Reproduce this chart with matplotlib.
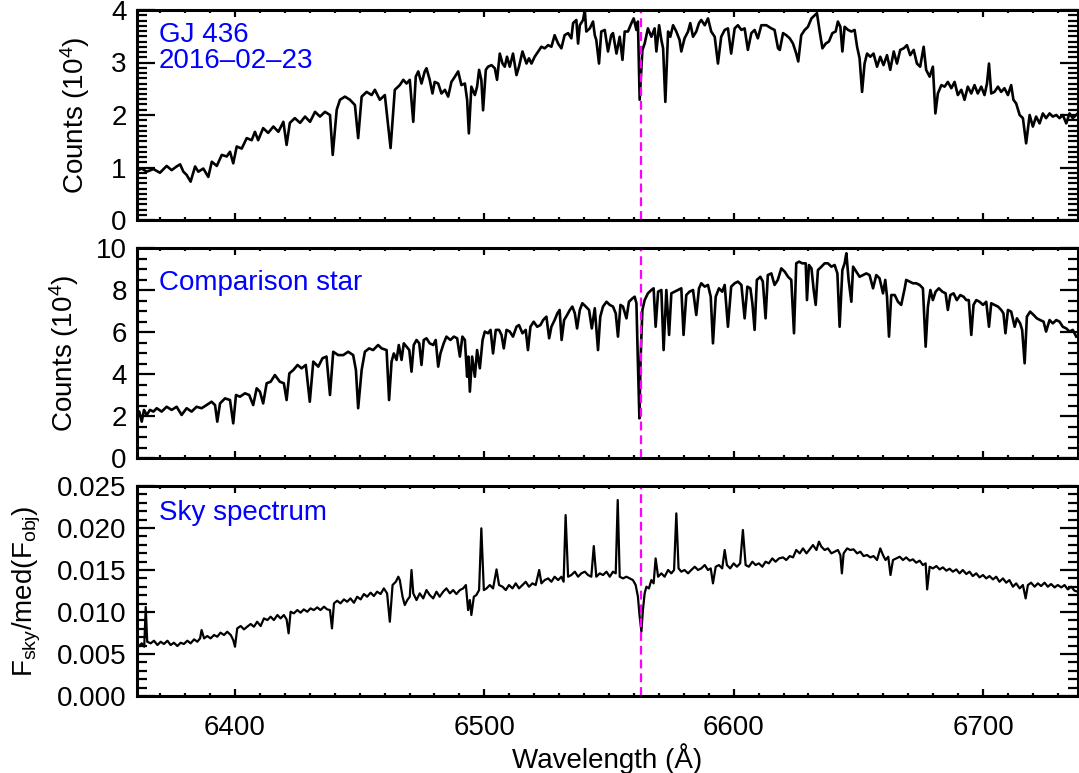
import numpy as np
import matplotlib.pyplot as plt
from matplotlib.ticker import MultipleLocator

plt.rcParams['font.family'] = ['Liberation Sans', 'DejaVu Sans']
plt.rcParams['mathtext.fontset'] = 'custom'
plt.rcParams['mathtext.rm'] = 'Liberation Sans'
plt.rcParams['mathtext.it'] = 'Liberation Sans:italic'

# H-alpha rest wavelength (dashed line)
halpha = 6562.8

# GJ 436 counts (10^4)
wl_gj = [6360.6, 6362.6, 6364.6, 6367.3, 6369.9, 6372.6, 6374.6, 6376.6, 6378.0, 6379.3,
         6380.6, 6382.2, 6384.0, 6385.3, 6387.3, 6389.3, 6390.7, 6392.7, 6394.7, 6396.7,
         6398.0, 6399.3, 6400.7, 6402.7, 6404.7, 6406.7, 6408.0, 6409.3, 6411.3, 6413.3,
         6415.4, 6417.4, 6419.4, 6420.7, 6422.0, 6424.0, 6426.1, 6428.1, 6430.1, 6432.1,
         6434.1, 6436.1, 6438.1, 6439.2, 6440.8, 6442.1, 6444.1, 6446.1, 6448.1, 6449.4,
         6450.8, 6452.8, 6454.8, 6456.1, 6458.1, 6460.1, 6462.4, 6464.1, 6466.1,
         6467.5, 6468.8, 6470.1, 6471.5, 6472.5, 6473.5, 6474.8, 6476.1, 6476.8, 6478.1,
         6479.2, 6480.1, 6481.5, 6482.8, 6484.2, 6485.5, 6486.8, 6488.2, 6489.5, 6490.8,
         6492.2, 6493.1, 6493.8, 6494.8, 6496.2, 6497.1, 6497.9, 6498.8, 6499.5, 6500.6,
         6501.5, 6502.9, 6504.2, 6505.1, 6506.2, 6507.3, 6508.2, 6509.1, 6510.2, 6511.5,
         6512.9, 6513.9, 6515.3, 6516.9, 6517.9, 6518.9, 6520.2, 6521.6, 6522.9, 6524.2,
         6525.6, 6526.9, 6528.2, 6529.6, 6530.9, 6532.2, 6533.6, 6534.9, 6535.6, 6536.9,
         6537.6, 6538.3, 6539.6, 6540.3, 6540.9, 6542.3, 6543.6, 6544.3, 6544.9, 6546.0,
         6546.9, 6548.3, 6549.6, 6550.9, 6551.6, 6553.0, 6554.3, 6555.4, 6556.3, 6557.6,
         6559.0, 6559.9, 6561.0, 6561.6, 6562.3, 6563.4, 6564.3, 6565.6, 6567.0, 6568.3,
         6569.0, 6570.1, 6571.0, 6571.7, 6572.6, 6573.7, 6574.6, 6575.7, 6577.0, 6578.3,
         6579.0, 6580.3, 6581.7, 6582.6, 6583.7, 6585.0, 6586.1, 6587.0, 6588.4, 6589.7,
         6591.0, 6592.4, 6593.7, 6595.0, 6596.4, 6597.7, 6599.0, 6600.4, 6601.7, 6603.1,
         6604.4, 6605.7, 6607.1, 6608.4, 6609.7, 6611.1, 6613.1, 6615.1, 6616.4, 6617.8,
         6618.5, 6619.8, 6621.1, 6622.5, 6623.8, 6625.1, 6625.9, 6627.1, 6628.5, 6629.8,
         6631.2, 6632.5, 6633.4, 6634.5, 6635.6, 6636.9, 6638.2, 6639.6, 6640.9, 6641.8,
         6642.8, 6643.6, 6644.5, 6645.9, 6647.2, 6648.5, 6649.5, 6650.5, 6651.5, 6652.5,
         6653.5, 6654.8, 6656.1, 6657.5, 6658.8, 6660.1, 6661.5, 6662.8, 6664.2, 6665.5,
         6666.8, 6668.2, 6669.5, 6670.8, 6672.2, 6673.5, 6674.8, 6676.2, 6677.2, 6678.6,
         6679.9, 6680.9, 6681.9, 6683.3, 6684.6, 6685.9, 6687.3, 6688.6, 6689.9, 6691.3,
         6692.6, 6693.9, 6695.3, 6696.6, 6697.9, 6699.3, 6700.6, 6701.6, 6702.4, 6703.3,
         6704.6, 6706.0, 6707.3, 6708.6, 6710.0, 6711.3, 6712.2, 6713.3, 6714.7, 6716.0,
         6717.3, 6718.7, 6720.0, 6721.3, 6722.7, 6724.0, 6725.3, 6726.7, 6728.0, 6729.4,
         6730.7, 6732.0, 6733.4, 6734.7, 6736.0, 6738.0]
flux_gj = [0.94, 0.98, 0.92, 0.97, 0.90, 1.03, 0.95, 1.02, 1.06, 0.92,
           0.86, 0.73, 1.02, 0.92, 0.98, 0.82, 1.11, 1.03, 1.24, 1.21,
           1.30, 1.08, 1.40, 1.36, 1.56, 1.52, 1.68, 1.52, 1.75, 1.66,
           1.78, 1.68, 1.87, 1.43, 1.85, 1.94, 1.85, 1.97, 1.87, 2.06,
           1.97, 2.06, 2.00, 1.24, 2.10, 2.29, 2.35, 2.29, 2.19, 1.56,
           2.35, 2.44, 2.38, 2.48, 2.29, 2.38, 1.37, 2.48, 2.57,
           2.67, 2.60, 2.67, 1.87, 2.73, 2.83, 2.60, 2.83, 2.89, 2.67,
           2.41, 2.63, 2.60, 2.41, 2.48, 2.35, 2.63, 2.73, 2.83, 2.57,
           2.60, 2.29, 1.65, 2.54, 2.38, 2.54, 2.86, 2.67, 2.09, 2.86,
           2.92, 2.95, 2.89, 2.67, 3.17, 2.98, 2.92, 3.11, 2.92, 3.17,
           2.76, 2.92, 3.21, 2.98, 3.08, 2.98, 3.11, 3.21, 3.30, 3.27,
           3.33, 3.30, 3.52, 3.36, 3.27, 3.52, 3.56, 3.46, 3.75, 3.81,
           3.36, 3.71, 3.81, 4.00, 3.59, 3.65, 3.78, 3.52, 3.43, 2.98,
           3.59, 3.62, 3.21, 3.52, 3.56, 3.17, 3.49, 3.05, 3.59, 3.59,
           3.75, 3.84, 3.62, 3.78, 2.29, 3.24, 3.36, 3.65, 3.49, 3.65,
           3.21, 3.71, 3.43, 3.27, 2.25, 3.59, 3.49, 3.71, 3.59, 3.43,
           3.21, 3.46, 3.59, 3.75, 3.49, 3.59, 3.75, 3.81, 3.71, 3.84,
           3.59, 3.49, 2.98, 3.49, 3.62, 3.65, 3.17, 3.65, 3.71, 3.62,
           3.65, 3.24, 3.56, 3.62, 3.46, 3.71, 3.71, 3.65, 3.62, 3.27,
           3.24, 3.56, 3.52, 3.46, 3.36, 3.17, 3.02, 3.52, 3.62, 3.68,
           3.84, 3.90, 3.94, 3.59, 3.27, 3.36, 3.40, 3.56, 3.59, 3.78,
           3.68, 3.21, 3.68, 3.62, 3.59, 3.62, 3.30, 3.08, 2.44, 2.98,
           3.17, 3.11, 3.17, 2.92, 3.11, 2.95, 3.14, 2.86, 3.21, 2.98,
           3.24, 3.27, 3.33, 3.14, 3.24, 2.98, 2.92, 3.30, 2.86, 2.73,
           2.92, 2.03, 2.41, 2.57, 2.54, 2.63, 2.51, 2.63, 2.38, 2.48,
           2.29, 2.54, 2.41, 2.57, 2.41, 2.54, 2.38, 2.60, 2.98, 2.41,
           2.44, 2.54, 2.44, 2.51, 2.38, 2.57, 2.29, 2.22, 2.00, 1.94,
           1.46, 2.00, 1.78, 1.97, 1.84, 2.03, 1.94, 2.03, 1.97, 2.00,
           1.94, 2.00, 1.84, 2.03, 1.94, 2.03]

# comparison star counts (10^4)
wl_comp = [6360.6, 6361.6, 6362.6, 6363.5, 6364.6, 6365.9, 6367.3, 6368.6, 6370.6, 6372.6,
           6374.6, 6376.6, 6378.6, 6380.6, 6382.6, 6384.6, 6386.6, 6388.6, 6390.6, 6392.0,
           6392.9, 6394.0, 6396.0, 6398.0, 6399.3, 6400.4, 6402.0, 6404.0, 6405.7, 6407.3,
           6408.7, 6410.0, 6411.3, 6412.7, 6414.3, 6416.0, 6418.0, 6419.6, 6420.7, 6421.8,
           6423.4, 6425.1, 6426.7, 6428.4, 6430.0, 6431.4, 6433.4, 6435.1, 6436.7, 6438.1,
           6439.4, 6441.4, 6443.4, 6445.4, 6447.4, 6448.5, 6449.4, 6450.8, 6452.1, 6453.8,
           6455.4, 6457.4, 6458.8,
           6460.8, 6461.8, 6462.8, 6463.7, 6464.8, 6465.7, 6466.8, 6467.7, 6468.8, 6469.9,
           6470.8, 6471.7, 6472.8, 6473.9, 6474.8, 6475.7, 6476.8, 6478.1, 6479.5, 6480.5,
           6481.5, 6482.4, 6483.7, 6484.8, 6486.4, 6487.8, 6489.1, 6490.2, 6491.2, 6492.2,
           6493.1, 6493.6, 6494.2, 6495.1, 6496.2, 6497.1, 6498.2, 6499.3, 6500.2, 6501.5,
           6502.5, 6503.5, 6504.6, 6505.9, 6506.9, 6507.8, 6508.9, 6510.2, 6511.5, 6512.9,
           6513.9, 6515.3, 6516.6, 6517.5, 6518.5, 6519.8, 6521.2, 6522.5, 6523.6, 6524.9,
           6526.0, 6526.9, 6528.2, 6529.3, 6530.2, 6531.0, 6532.0, 6533.2, 6534.3, 6535.3,
           6536.3, 6537.2, 6538.3, 6539.3, 6540.7, 6542.0, 6543.1, 6544.3, 6545.6, 6546.5,
           6547.6, 6549.0, 6550.3, 6551.6, 6552.7, 6553.6, 6554.6, 6555.6, 6557.0, 6558.0,
           6559.4, 6560.3, 6561.0, 6561.6, 6562.2, 6562.7, 6563.4, 6564.3, 6565.6, 6567.0,
           6567.9, 6568.7, 6569.7, 6571.0, 6571.9, 6573.0, 6574.1, 6575.0, 6576.3, 6577.7,
           6579.0, 6579.9, 6581.0, 6582.3, 6583.7, 6585.0, 6586.1, 6587.0, 6588.4, 6589.7,
           6590.8, 6591.7, 6592.8, 6594.1, 6595.4, 6596.4, 6597.7, 6599.0, 6600.4, 6601.7,
           6603.1, 6604.4, 6605.5, 6606.7, 6607.5, 6608.4, 6609.3, 6610.7, 6611.7, 6612.8,
           6613.7, 6615.1, 6616.4, 6617.7,
           6618.5, 6619.1, 6620.5, 6621.8, 6623.1, 6624.2, 6625.1, 6626.2, 6627.5, 6628.9,
           6629.4, 6630.2, 6631.2, 6632.1, 6632.9, 6633.8, 6635.2, 6636.5, 6637.8, 6639.2,
           6640.5, 6641.6, 6642.5, 6643.6, 6644.5, 6645.2, 6646.1, 6647.2, 6647.9, 6649.2,
           6650.5, 6651.9, 6653.2, 6654.5, 6655.9, 6657.2, 6658.5, 6659.9, 6660.8, 6661.5,
           6662.3, 6663.2, 6664.6, 6665.9, 6667.2, 6668.6, 6669.2, 6670.6, 6671.9, 6673.2,
           6674.6, 6675.9, 6677.0, 6677.9, 6678.9, 6679.9, 6681.0, 6682.3, 6683.7, 6685.0,
           6685.9, 6686.9, 6688.2, 6689.5, 6690.9, 6692.2, 6693.3, 6694.3, 6695.3, 6696.2,
           6697.3, 6698.6, 6700.0, 6701.3, 6702.4, 6703.3, 6704.6, 6706.0, 6707.3, 6708.2,
           6709.0, 6710.0, 6711.3, 6712.7, 6713.6, 6714.9, 6715.7, 6716.7, 6717.6, 6718.9,
           6720.3, 6721.6, 6722.9, 6724.3, 6725.3, 6726.7, 6728.0, 6729.4, 6730.7, 6732.0,
           6733.4, 6734.7, 6736.0, 6737.4]
flux_comp = [1.81, 2.21, 1.73, 2.29, 2.05, 2.29, 2.21, 2.37, 2.21, 2.44,
             2.29, 2.44, 2.05, 2.37, 2.21, 2.44, 2.37, 2.52, 2.68, 2.52,
             1.73, 2.60, 2.84, 2.76, 1.65, 3.00, 2.92, 3.08, 3.00, 2.52,
             3.32, 3.16, 2.60, 3.56, 3.63, 3.95, 3.63, 3.56, 2.76, 4.03,
             4.19, 4.43, 4.27, 4.43, 2.68, 4.59, 4.35, 4.75, 4.83, 3.00,
             5.06, 4.90, 4.90, 5.06, 4.90, 4.19, 2.37, 4.19, 5.06, 5.22,
             5.14, 5.38, 5.22,
             5.14, 2.76, 4.59, 4.98, 4.67, 5.38, 4.67, 5.46, 5.30, 5.14,
             4.11, 5.38, 5.62, 5.46, 4.43, 5.62, 5.70, 5.46, 5.38, 5.62,
             4.35, 4.98, 5.46, 5.78, 5.62, 5.78, 5.70, 4.83, 5.78, 5.62,
             3.87, 4.83, 3.16, 4.83, 3.87, 5.14, 4.27, 5.62, 6.02, 5.94,
             6.10, 4.98, 6.10, 6.10, 5.86, 5.22, 6.10, 6.02, 5.78, 6.25,
             6.33, 5.94, 6.10, 5.14, 6.25, 6.49, 6.25, 6.33, 6.57, 6.73,
             5.70, 6.25, 6.57, 6.89, 7.05, 5.62, 6.57, 6.81, 7.05, 7.21,
             6.89, 6.17, 7.05, 7.37, 7.21, 7.05, 6.17, 7.13, 5.14, 6.73,
             7.21, 7.44, 7.29, 7.21, 6.89, 5.78, 7.29, 7.21, 6.65, 7.44,
             7.60, 7.68, 7.37, 4.51, 1.89, 4.83, 7.05, 7.52, 7.84, 8.00,
             8.08, 6.25, 7.92, 8.00, 5.14, 8.00, 5.86, 7.84, 7.92, 8.00,
             8.08, 5.86, 7.76, 7.92, 8.00, 6.81, 8.08, 8.32, 8.16, 8.24,
             7.68, 5.46, 7.68, 8.08, 7.92, 8.24, 6.25, 8.16, 8.32, 8.40,
             8.24, 6.65, 8.16, 8.08, 7.37, 6.10, 8.48, 8.63, 8.40, 6.65,
             8.71, 8.79, 8.24, 8.48,
             8.79, 9.03, 8.87, 8.63, 8.48, 5.94, 9.27, 9.35, 9.27, 9.27,
             7.52, 9.19, 9.03, 8.00, 7.29, 8.95, 9.11, 9.27, 9.27, 9.11,
             9.19, 8.79, 6.25, 8.95, 9.27, 9.75, 8.48, 7.44, 9.11, 8.87,
             8.63, 8.71, 8.79, 8.71, 8.08, 8.71, 8.56, 7.84, 8.48, 7.68,
             5.78, 7.76, 7.76, 7.44, 7.29, 8.08, 8.48, 8.40, 8.32, 8.32,
             8.24, 8.08, 5.30, 7.21, 8.00, 7.52, 7.92, 8.08, 7.92, 7.84,
             7.05, 7.76, 7.84, 7.52, 7.76, 7.68, 7.52, 7.52, 5.86, 7.29,
             7.52, 7.44, 7.29, 7.44, 6.25, 7.37, 7.29, 7.21, 7.05, 6.89,
             5.94, 7.05, 6.97, 6.25, 6.65, 6.41, 6.10, 4.51, 6.73, 6.97,
             6.81, 6.65, 6.57, 6.49, 6.02, 6.57, 6.41, 6.57, 6.49, 6.25,
             6.17, 6.02, 6.10, 5.78]

# sky / median object flux, in units of 10^-3
wl_sky = [6361.2, 6362.6, 6363.6, 6364.2, 6364.8, 6366.2, 6367.5, 6368.9, 6370.2, 6371.5,
          6372.9, 6374.2, 6375.5, 6376.9, 6378.2, 6379.5, 6380.9, 6382.2, 6383.6, 6384.9,
          6386.0, 6386.6, 6387.6, 6388.9, 6390.2, 6391.6, 6392.9, 6394.2, 6395.6, 6396.9,
          6398.3, 6399.3, 6400.0, 6400.9, 6402.3, 6403.6, 6404.9, 6406.3, 6407.6, 6408.9,
          6410.3, 6411.6, 6413.0, 6414.3, 6415.6, 6417.0, 6418.3, 6419.6, 6420.7, 6421.5,
          6422.3, 6423.6, 6425.0, 6426.3, 6427.6, 6429.0, 6430.3, 6431.6, 6433.0, 6434.3,
          6435.7, 6437.0, 6438.1, 6438.9, 6439.7, 6441.0, 6442.3, 6443.7, 6445.0, 6446.3,
          6447.7, 6449.0, 6450.4, 6451.7, 6453.0, 6454.4, 6455.7, 6457.0, 6458.4, 6459.7,
          6461.0, 6462.1, 6463.2, 6464.5, 6465.5,
          6466.1, 6467.2, 6468.1, 6469.1, 6470.1, 6470.8, 6471.5, 6472.8, 6474.1, 6475.5,
          6476.8, 6478.1, 6479.5, 6480.8, 6482.1, 6483.5, 6484.8, 6486.2, 6487.5, 6488.8,
          6490.2, 6491.5, 6492.6, 6493.5, 6494.2, 6494.8, 6495.8, 6496.8, 6497.9, 6498.8,
          6499.8, 6500.9, 6502.2, 6503.5, 6504.9, 6505.9, 6507.3, 6508.6, 6509.9, 6511.3,
          6512.6, 6513.9, 6515.3, 6516.6, 6517.9, 6519.3, 6520.6, 6522.0, 6522.9, 6524.2,
          6525.6, 6526.9, 6528.2, 6529.6, 6530.9, 6531.8, 6532.6, 6533.6, 6534.9, 6536.3,
          6537.6, 6538.9, 6540.3, 6541.6, 6542.9, 6543.9, 6544.9, 6546.3, 6547.6, 6549.0,
          6550.3, 6551.6, 6552.7, 6553.5, 6554.3, 6555.6, 6557.0, 6558.3, 6559.6, 6560.7,
          6561.6, 6562.3, 6563.0, 6563.6, 6564.3, 6565.0, 6566.0, 6567.0, 6567.9, 6568.7,
          6569.7, 6571.0, 6572.3, 6573.7, 6575.0, 6576.1, 6577.0, 6577.9, 6579.0, 6580.3,
          6581.7, 6583.0, 6584.4, 6585.7, 6587.0, 6588.4, 6589.7, 6590.8, 6591.7, 6592.8,
          6594.1, 6595.4, 6596.4, 6597.3, 6598.6, 6600.0, 6601.3, 6602.6, 6603.7, 6604.8,
          6606.1, 6607.5, 6608.8, 6610.1, 6611.5, 6612.8, 6614.1, 6615.5, 6616.8, 6618.2,
          6619.8, 6621.1, 6622.5, 6623.8, 6625.1, 6626.5, 6627.8, 6629.2, 6630.5, 6631.8,
          6633.2, 6634.2, 6635.2, 6636.5, 6637.8, 6639.2, 6640.5, 6641.8, 6642.8, 6643.4,
          6644.1, 6645.5, 6646.8, 6648.1, 6649.5, 6650.8, 6652.1, 6653.5, 6654.8, 6656.1,
          6657.5, 6658.8, 6659.9, 6660.9, 6662.0, 6662.9, 6663.9, 6665.2, 6666.6, 6667.9,
          6669.2, 6670.6, 6671.9, 6673.2, 6674.6, 6675.9, 6677.0, 6677.6, 6678.6, 6679.9,
          6681.3, 6682.6, 6683.9, 6685.3, 6686.6, 6687.9, 6689.3, 6690.6, 6691.9, 6693.3,
          6694.6, 6695.9, 6697.3, 6698.6, 6700.0, 6701.3, 6702.6, 6704.0, 6705.3, 6706.6,
          6708.0, 6709.3, 6710.6, 6712.0, 6713.3, 6714.7, 6716.0, 6717.1, 6718.0, 6719.3,
          6720.7, 6722.0, 6723.3, 6724.7, 6726.0, 6727.3, 6728.7, 6730.0, 6731.4, 6732.7,
          6734.0, 6735.4, 6736.7, 6738.0]
flux_sky = [5.87, 6.27, 5.87, 10.6, 6.46, 6.27, 6.58, 6.07, 6.46, 6.19,
            6.58, 6.07, 6.34, 5.95, 6.34, 6.19, 6.58, 6.27, 6.74, 6.46,
            6.86, 7.85, 6.86, 7.14, 6.86, 7.26, 7.06, 7.54, 7.26, 7.65,
            7.26, 6.66, 5.87, 8.05, 8.33, 7.93, 8.25, 8.57, 8.25, 8.84,
            8.33, 9.24, 9.04, 9.44, 9.04, 9.64, 9.24, 9.64, 9.12, 7.46,
            10.03, 9.84, 10.23, 9.92, 10.31, 10.03, 10.43, 10.23, 10.55, 10.23,
            10.63, 10.31, 10.23, 8.05, 11.03, 11.34, 11.03, 11.5, 11.22, 11.62,
            11.1, 11.82, 11.5, 12.14, 11.82, 12.3, 11.9, 12.42, 12.14, 12.81,
            12.22, 8.84, 13.21, 13.6, 14.2,
            13.8, 11.82, 10.83, 11.42, 11.82, 15.0, 12.22, 11.42, 12.22, 11.62,
            12.61, 12.02, 11.62, 12.42, 11.82, 12.42, 12.81, 12.22, 12.61, 12.14,
            12.61, 12.81, 13.21, 10.23, 11.42, 9.64, 11.82, 12.02, 12.61, 19.96,
            12.61, 12.81, 13.21, 12.81, 15.07, 13.21, 13.01, 12.61, 13.21, 12.81,
            13.41, 12.81, 13.21, 13.6, 13.01, 13.41, 13.21, 15.0, 13.41, 13.8,
            14.0, 13.6, 14.2, 13.8, 14.2, 13.6, 21.54, 14.2, 14.4, 14.8,
            14.2, 14.6, 14.8, 14.4, 14.2, 17.85, 14.2, 14.6, 14.4, 14.8,
            14.2, 14.8, 14.6, 23.33, 14.2, 14.0, 14.2, 14.0, 13.8, 13.21,
            11.82, 9.44, 7.65, 10.23, 12.22, 13.01, 12.81, 13.8, 13.41, 16.38,
            14.2, 14.6, 14.2, 15.0, 14.6, 15.0, 21.74, 15.19, 14.8, 15.0,
            14.6, 15.0, 15.39, 15.0, 15.19, 15.59, 15.0, 15.19, 13.41, 15.39,
            15.59, 15.19, 17.38, 15.59, 15.19, 15.79, 15.39, 15.79, 19.76, 15.59,
            15.39, 15.99, 15.59, 15.79, 15.39, 15.99, 15.79, 16.38, 15.99, 16.38,
            16.5, 16.19, 16.66, 16.5, 17.38, 16.98, 17.57, 16.98, 17.46, 17.97,
            17.38, 18.37, 17.77, 17.38, 17.57, 16.98, 17.18, 17.38, 16.78, 14.6,
            16.98, 17.57, 17.38, 17.46, 16.98, 17.18, 16.66, 16.78, 16.5, 16.66,
            16.19, 17.57, 16.78, 16.19, 16.58, 14.4, 16.19, 16.38, 16.58, 16.19,
            16.5, 16.11, 16.27, 15.87, 16.11, 15.59, 15.79, 12.69, 15.39, 15.19,
            15.47, 15.07, 15.31, 14.92, 15.15, 14.8, 15.07, 14.6, 15.0, 14.52,
            14.8, 14.28, 14.6, 14.12, 14.4, 14.0, 14.28, 13.88, 14.2, 13.6,
            14.0, 13.49, 13.8, 13.01, 13.41, 12.81, 13.21, 11.62, 13.21, 13.49,
            13.01, 13.41, 13.09, 13.49, 13.01, 13.33, 12.93, 13.21, 12.93, 13.21,
            12.69, 13.01, 12.54, 12.42]

assert len(wl_gj) == len(flux_gj)
assert len(wl_comp) == len(flux_comp)
assert len(wl_sky) == len(flux_sky)

fig = plt.figure(figsize=(10.79, 7.73), dpi=100)
left, width, height = 136.5 / 1079, 941 / 1079, 210 / 773
ax1 = fig.add_axes([left, 1 - 220 / 773, width, height])
ax2 = fig.add_axes([left, 1 - 458 / 773, width, height])
ax3 = fig.add_axes([left, 1 - 696 / 773, width, height])

ax1.plot(wl_gj, flux_gj, color='black', lw=1.9)
ax2.plot(wl_comp, flux_comp, color='black', lw=1.9)
ax3.plot(wl_sky, np.array(flux_sky) * 1e-3, color='black', lw=1.6)

ax1.set_ylim(0, 4)
ax2.set_ylim(0, 10)
ax3.set_ylim(0, 0.025)
ax1.yaxis.set_major_locator(MultipleLocator(1))
ax1.yaxis.set_minor_locator(MultipleLocator(0.1))
ax2.yaxis.set_major_locator(MultipleLocator(2))
ax2.yaxis.set_minor_locator(MultipleLocator(0.5))
ax3.yaxis.set_major_locator(MultipleLocator(0.005))
ax3.yaxis.set_minor_locator(MultipleLocator(0.001))
ax3.yaxis.set_major_formatter(plt.FormatStrFormatter('%.3f'))

for ax in (ax1, ax2, ax3):
    ax.set_xlim(6360.5, 6737.9)
    ax.xaxis.set_major_locator(MultipleLocator(100))
    ax.xaxis.set_minor_locator(MultipleLocator(10))
    ax.axvline(halpha, color='#ff00ff', lw=1.6, dashes=(4, 2.2))
    for s in ax.spines.values():
        s.set_linewidth(2.2)
    ax.tick_params(which='both', direction='in', top=True, right=True, width=1.6,
                   labelsize=20)
    ax.tick_params(axis='y', which='major', length=13, pad=7)
    ax.tick_params(axis='y', which='minor', length=7)
    ax.tick_params(axis='x', which='major', length=5, pad=13.5)
    ax.tick_params(axis='x', which='minor', length=2.5)
    if ax is not ax3:
        ax.tick_params(axis='x', labelbottom=False)
    labels = ax.get_yticklabels()
    labels[0].set_va('baseline')
    labels[-1].set_va('top')

ax3.set_xlabel('Wavelength (Å)', fontsize=20, labelpad=2)

ax1.text(-0.065, 0.5, 'Counts (10$^{4}$)', transform=ax1.transAxes, rotation=90,
         ha='center', va='center', fontsize=20)
ax2.text(-0.0765, 0.5, 'Counts (10$^{4}$)', transform=ax2.transAxes, rotation=90,
         ha='center', va='center', fontsize=20)
ax3.text(-0.116, 0.5, r'F$_{\rm sky}$/med(F$_{\rm obj}$)', transform=ax3.transAxes,
         rotation=90, ha='center', va='center', fontsize=20)

ax1.text(0.024, 0.848, 'GJ 436', transform=ax1.transAxes, color='blue', fontsize=20,
         va='baseline')
ax1.text(0.024, 0.724, '2016–02–23', transform=ax1.transAxes, color='blue', fontsize=20,
         va='baseline')
ax2.text(0.024, 0.80, 'Comparison star', transform=ax2.transAxes, color='blue', fontsize=20,
         va='baseline')
ax3.text(0.024, 0.838, 'Sky spectrum', transform=ax3.transAxes, color='blue', fontsize=20,
         va='baseline')

fig.savefig('out.png', dpi=100)
